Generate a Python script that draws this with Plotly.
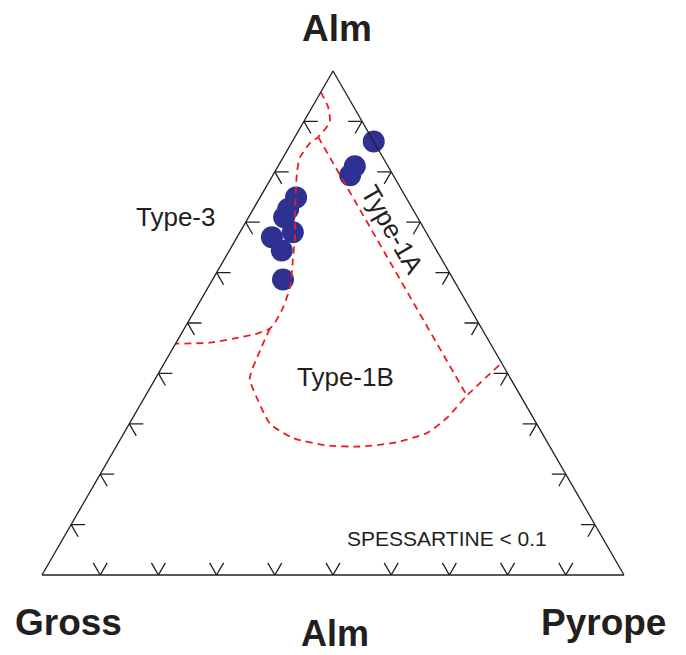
import plotly.graph_objects as go

# ---- data (fractions: Alm, Gross, Pyrope) ----
sample_alm = [0.86, 0.793, 0.811, 0.750, 0.726, 0.710, 0.680, 0.670, 0.644, 0.587]
sample_gross = [0.00, 0.074, 0.057, 0.189, 0.214, 0.229, 0.229, 0.270, 0.266, 0.293]
sample_pyrope = [0.14, 0.133, 0.132, 0.062, 0.060, 0.061, 0.091, 0.060, 0.090, 0.121]

# Type-3 boundary (upper curve)
b3_alm = [0.958, 0.928, 0.899, 0.869, 0.857, 0.829, 0.803, 0.769, 0.724, 0.678, 0.624, 0.571, 0.531, 0.501, 0.489,
          0.479, 0.469, 0.461, 0.459]
b3_gross = [0.042, 0.044, 0.056, 0.091, 0.111, 0.142, 0.160, 0.179, 0.203, 0.226, 0.257, 0.289, 0.321, 0.349, 0.364,
            0.391, 0.437, 0.481, 0.541]
b3_pyrope = [0.000, 0.027, 0.045, 0.040, 0.032, 0.029, 0.037, 0.052, 0.073, 0.096, 0.119, 0.141, 0.149, 0.150, 0.147,
             0.130, 0.094, 0.058, 0.000]

# Type-1B lower boundary
b1b_alm = [0.489, 0.445, 0.390, 0.352, 0.300, 0.272, 0.257, 0.255, 0.262, 0.282, 0.312, 0.356, 0.420]
b1b_gross = [0.364, 0.403, 0.448, 0.455, 0.458, 0.433, 0.382, 0.326, 0.266, 0.197, 0.148, 0.092, 0.001]
b1b_pyrope = [0.147, 0.152, 0.162, 0.193, 0.242, 0.295, 0.361, 0.419, 0.472, 0.521, 0.540, 0.552, 0.579]

# Type-1A boundary (straight line)
b1a_alm = [0.869, 0.356]
b1a_gross = [0.091, 0.092]
b1a_pyrope = [0.040, 0.552]

tick_values = [0.1, 0.2, 0.3, 0.4, 0.5, 0.6, 0.7, 0.8, 0.9]
TICK_LEN = 0.024

# ---- chevron ticks ----
ta, tb, tc = [], [], []
for t in tick_values:
    # left edge (Pyrope = 0)
    ta += [t, t, t - TICK_LEN, None]
    tb += [1 - t - TICK_LEN, 1 - t, 1 - t, None]
    tc += [TICK_LEN, 0, TICK_LEN, None]
    # right edge (Gross = 0)
    ta += [t, t, t - TICK_LEN, None]
    tb += [TICK_LEN, 0, TICK_LEN, None]
    tc += [1 - t - TICK_LEN, 1 - t, 1 - t, None]
    # bottom edge (Alm = 0)
    ta += [TICK_LEN, 0, TICK_LEN, None]
    tb += [t, t, t - TICK_LEN, None]
    tc += [1 - t - TICK_LEN, 1 - t, 1 - t, None]

fig = go.Figure()
fig.add_trace(go.Scatterternary(a=ta, b=tb, c=tc, mode="lines",
                                line=dict(color="#231F20", width=1.3),
                                hoverinfo="skip", connectgaps=False))
fig.add_trace(go.Scatterternary(a=sample_alm, b=sample_gross, c=sample_pyrope, mode="markers",
                                cliponaxis=False,
                                marker=dict(color="#2E3192", size=22, line=dict(width=0))))
red = "#ED1C24"
for A, B, C in [(b3_alm, b3_gross, b3_pyrope), (b1b_alm, b1b_gross, b1b_pyrope), (b1a_alm, b1a_gross, b1a_pyrope)]:
    fig.add_trace(go.Scatterternary(a=A, b=B, c=C, mode="lines",
                                    line=dict(color=red, width=1.8, dash="7px,5px", shape="spline", smoothing=0.6)))

axis = dict(showgrid=False, showticklabels=False, ticks="", linecolor="#231F20", linewidth=1.3,
            title=dict(text=""), min=0)
fig.update_layout(
    width=686, height=655,
    margin=dict(l=42, r=62, t=71, b=80),
    paper_bgcolor="white",
    showlegend=False,
    ternary=dict(sum=1, bgcolor="white", aaxis=axis, baxis=axis, caxis=axis),
    font=dict(family="Liberation Sans, Arial, sans-serif", color="#231F20"),
)

def px(x, y):
    return (x - 42) / 582, (575 - y) / 504

def note(text, x, y, size, bold=False, angle=0):
    xp, yp = px(x, y)
    fig.add_annotation(text=f"<b>{text}</b>" if bold else text, x=xp, y=yp, xref="paper", yref="paper",
                       showarrow=False, xanchor="center", yanchor="middle", textangle=angle,
                       font=dict(size=size, family="Liberation Sans, Arial, sans-serif", color="#231F20"))

note("Alm", 337, 28, 37, bold=True)
note("Gross", 68, 622, 37, bold=True)
note("Alm", 335, 633, 36, bold=True)
note("Pyrope", 603, 622, 37, bold=True)
note("Type-3", 176, 217, 26)
note("Type-1B", 345, 377, 26)
note("Type-1A", 392, 229, 26, angle=60)
note("SPESSARTINE < 0.1", 447, 538, 21)

fig.write_html("out.html", config={"displayModeBar": False},
               post_script="document.body.style.margin='0';document.body.style.overflow='hidden';")
